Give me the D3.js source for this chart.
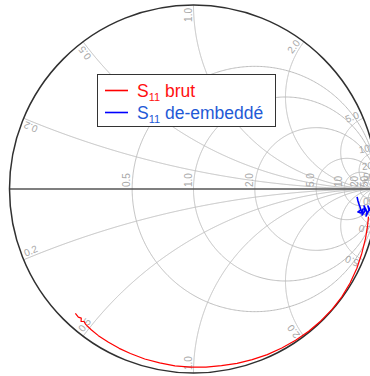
<!DOCTYPE html>
<html>
<head>
<meta charset="utf-8">
<script src="https://cdn.jsdelivr.net/npm/d3@7"></script>
<style>
  html, body { margin: 0; padding: 0; background: #ffffff; }
  svg { display: block; }
</style>
</head>
<body>
<svg id="chart" width="370" height="376"></svg>
<script>
// Smith chart grid: constant-resistance circles and constant-reactance arcs
const resistanceValues = [0.5, 1, 2, 5, 10, 20, 50];
const resistanceLimits = [Infinity, Infinity, Infinity, Infinity, Infinity, Infinity, Infinity];
const resistanceLabels = ["0.5", "1.0", "2.0", "5.0", "10", "20", "50"];
const reactanceValues = [0.2, 0.5, 1, 2, 5, 10, 20, 50];
const reactanceLimits = [Infinity, Infinity, Infinity, Infinity, Infinity, Infinity, Infinity, Infinity];
const reactanceLabels = ["0.2", "0.5", "1.0", "2.0", "5.0", "10", "20", "50"];

// S11 brut (reflection coefficient, real / imaginary parts)
const rawRe = [-0.642, -0.626, -0.610, -0.611, -0.595, -0.586, -0.556, -0.517, -0.462, -0.404,
               -0.343, -0.265, -0.184, -0.101, -0.017, 0.068, 0.152, 0.237, 0.319, 0.401,
               0.480, 0.555, 0.626, 0.692, 0.753, 0.806, 0.851, 0.888, 0.915, 0.935, 0.946, 0.951];
const rawIm = [-0.676, -0.696, -0.702, -0.720, -0.720, -0.736, -0.765, -0.797, -0.833, -0.866,
               -0.894, -0.924, -0.945, -0.961, -0.968, -0.968, -0.960, -0.948, -0.927, -0.900,
               -0.864, -0.822, -0.773, -0.717, -0.654, -0.586, -0.511, -0.431, -0.349, -0.268, -0.201, -0.150];

// S11 de-embeddé
const deRe = [0.889, 0.894, 0.899, 0.905, 0.910, 0.894, 0.910, 0.921, 0.916, 0.932,
              0.927, 0.943, 0.938, 0.954, 0.948, 0.965, 0.976];
const deIm = [-0.043, -0.065, -0.082, -0.098, -0.114, -0.125, -0.130, -0.109, -0.141, -0.120,
              -0.092, -0.125, -0.147, -0.114, -0.092, -0.125, -0.103];

const seriesNames = ["brut", "de-embeddé"];
const seriesColors = ["#ff0000", "#0000ff"];
const legendTextColors = ["#ff1010", "#1f5ad6"];

const svg = d3.select("#chart");
const cx = 193.5, cy = 189, R = 184;
const x = d3.scaleLinear().domain([-1, 1]).range([cx - R, cx + R]);
const y = d3.scaleLinear().domain([-1, 1]).range([cy + R, cy - R]);

// z -> gamma = (z - 1) / (z + 1)
function gamma(re, im) {
  const dr = re + 1, den = dr * dr + im * im;
  return [((re - 1) * dr + im * im) / den, (im * dr - (re - 1) * im) / den];
}
const line = d3.line().x(d => x(d[0])).y(d => y(d[1]));

svg.append("defs").append("clipPath").attr("id", "disk")
  .append("circle").attr("cx", cx).attr("cy", cy).attr("r", R);

const grid = svg.append("g").attr("clip-path", "url(#disk)")
  .attr("fill", "none").attr("stroke", "#bdbdbd").attr("stroke-width", 1);

// constant-resistance circles
resistanceValues.forEach((r, i) => {
  const lim = Math.atan(resistanceLimits[i]);
  const pts = d3.range(0, 601).map(k => {
    const u = -lim + 2 * lim * k / 600;
    const t = Math.abs(Math.abs(u) - Math.PI / 2) < 1e-9 ? Math.sign(u) * 1e6 : Math.tan(u);
    return gamma(r, t);
  });
  grid.append("path").attr("d", line(pts));
});

// constant-reactance arcs (both signs)
reactanceValues.forEach((v, i) => {
  const lim = Math.atan(reactanceLimits[i]);
  [1, -1].forEach(s => {
    const pts = d3.range(0, 601).map(k => {
      const u = lim * k / 600;
      const rr = Math.abs(u - Math.PI / 2) < 1e-9 ? 1e6 : Math.tan(u);
      return gamma(rr, s * v);
    });
    grid.append("path").attr("d", line(pts));
  });
});

// real axis
svg.append("line")
  .attr("x1", x(-1)).attr("x2", x(1)).attr("y1", y(0)).attr("y2", y(0))
  .attr("stroke", "#555").attr("stroke-width", 1.5);

// outer boundary |gamma| = 1
svg.append("circle").attr("cx", x(0)).attr("cy", y(0)).attr("r", x(1) - x(0))
  .attr("fill", "none").attr("stroke", "#303030").attr("stroke-width", 1.5);

const labelFont = "Liberation Sans, Arial, Helvetica, sans-serif";
const labels = svg.append("g").attr("fill", "#a8a8a8")
  .attr("font-family", labelFont).attr("font-size", 10);

// resistance labels along the real axis
resistanceValues.forEach((r, i) => {
  const g = gamma(r, 0);
  const px = x(g[0]) - 2, py = y(0) - 2;
  labels.append("text").attr("text-anchor", "start")
    .attr("transform", `translate(${px},${py}) rotate(-90)`)
    .text(resistanceLabels[i]);
});

// reactance labels at the rim
reactanceValues.forEach((v, i) => {
  [1, -1].forEach(s => {
    const g = gamma(0, s * v);
    const th = Math.atan2(g[1], g[0]);
    const ex = x(g[0]), ey = y(g[1]);
    const inX = -Math.cos(th), inY = Math.sin(th);
    const wX = s > 0 ? -Math.sin(th) : Math.sin(th);
    const wY = s > 0 ? -Math.cos(th) : Math.cos(th);
    const dirX = -wY, dirY = wX;
    const ang = Math.atan2(dirY, dirX) * 180 / Math.PI;
    const px = ex + 3 * inX + 2 * wX, py = ey + 3 * inY + 2 * wY;
    labels.append("text").attr("text-anchor", s > 0 ? "end" : "start")
      .attr("transform", `translate(${px},${py}) rotate(${ang})`)
      .text(reactanceLabels[i]);
  });
});

// data traces
const traces = svg.append("g").attr("fill", "none").attr("stroke-linejoin", "round");
traces.append("path")
  .attr("d", line(rawRe.map((d, i) => [d, rawIm[i]])))
  .attr("stroke", seriesColors[0]).attr("stroke-width", 1.2);
traces.append("path")
  .attr("d", line(deRe.map((d, i) => [d, deIm[i]])))
  .attr("stroke", seriesColors[1]).attr("stroke-width", 1.6);

// legend
const legend = svg.append("g").attr("transform", "translate(97,74)");
legend.append("rect").attr("x", 0.5).attr("y", 0.5).attr("width", 178).attr("height", 52)
  .attr("fill", "#ffffff").attr("stroke", "#333").attr("stroke-width", 1);
seriesNames.forEach((name, i) => {
  const ly = 16.5 + i * 22;
  legend.append("line").attr("x1", 8).attr("x2", 31).attr("y1", ly).attr("y2", ly)
    .attr("stroke", seriesColors[i]).attr("stroke-width", 1.6);
  const t = legend.append("text").attr("x", 40).attr("y", ly + 6.5)
    .attr("font-family", labelFont).attr("font-size", 17.5)
    .attr("fill", legendTextColors[i]);
  t.append("tspan").text("S");
  t.append("tspan").attr("font-size", 11).attr("dy", 4).text("11");
  t.append("tspan").attr("dy", -4).text(" " + name);
});
</script>
</body>
</html>
